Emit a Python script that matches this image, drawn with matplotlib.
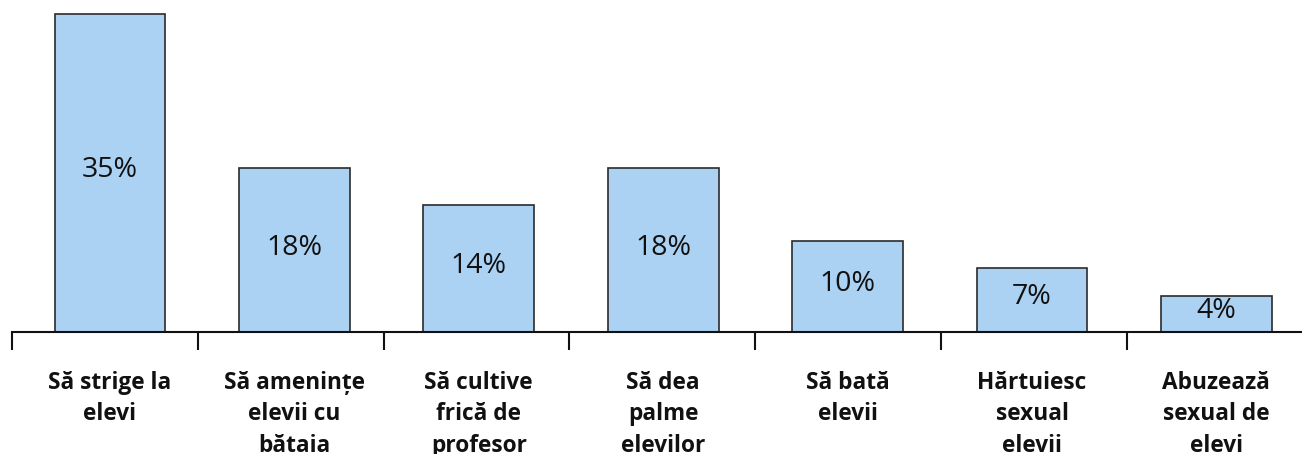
import matplotlib
matplotlib.use("Agg")
import matplotlib.pyplot as plt
import numpy as np

categories = ["Să strige la\nelevi", "Să amenințe\nelevii cu\nbătaia", "Să cultive\nfrică de\nprofesor",
              "Să dea\npalme\nelevilor", "Să bată\nelevii", "Hărtuiesc\nsexual\nelevii",
              "Abuzează\nsexual de\nelevi"]
values = [35, 18, 14, 18, 10, 7, 4]
value_labels = ["35%", "18%", "14%", "18%", "10%", "7%", "4%"]

plt.rcParams['font.family'] = ['Open Sans', 'DejaVu Sans']

fig = plt.figure(figsize=(13.02, 4.54), dpi=100)
ax = fig.add_axes([12/1302, (454-332)/454, 1 - 12/1302, 332/454])

x = np.arange(len(values))
ax.bar(x, values, width=0.6, color='#abd1f3', edgecolor='#2b2b2b', linewidth=1.2, zorder=2)
for xi, v, lab in zip(x, values, value_labels):
    ax.text(xi, v/2 + 0.3, lab, ha='center', va='center', fontsize=20.5, color='#111111')

ax.set_xlim(-0.531, 6.464)
ax.set_ylim(0, 36.54)
for s in ['top', 'left', 'right']:
    ax.spines[s].set_visible(False)
ax.spines['bottom'].set_linewidth(1.5)
ax.spines['bottom'].set_color('#111111')
ax.set_yticks([])

ax.set_xticks(x)
ax.set_xticklabels(categories, fontsize=16.3, fontweight='bold', linespacing=1.42, color='#111111')
ax.tick_params(axis='x', which='major', length=0, pad=28)
bounds = -0.531 + 1.0076*np.arange(7)
ax.set_xticks(bounds, minor=True)
ax.tick_params(axis='x', which='minor', length=13, width=1.5, color='#111111')

fig.savefig('out.png', dpi=100)
